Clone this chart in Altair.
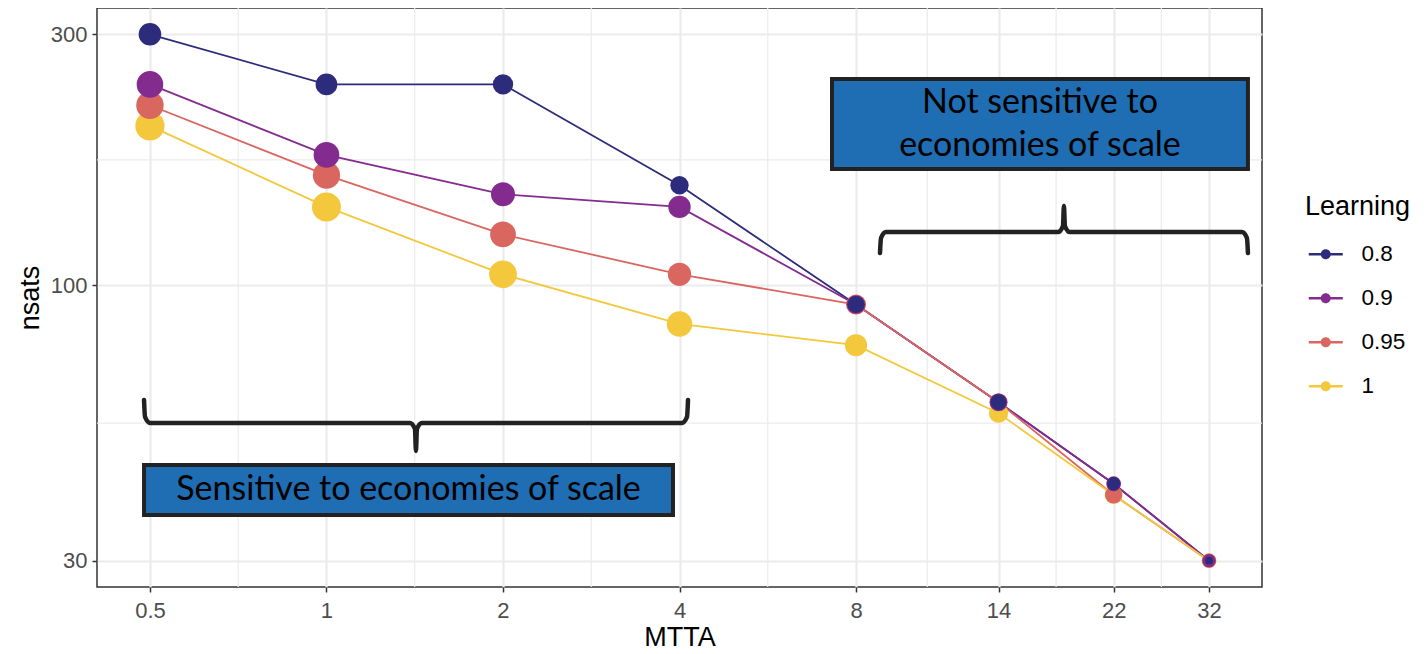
import math
import altair as alt
import pandas as pd

# ---------------- data ----------------
MTTA = [0.5, 1, 2, 4, 8, 14, 22, 32]
LEARNING = ["0.8", "0.9", "0.95", "1"]
COLORS = ["#2D2C7C", "#832B8E", "#D9665F", "#F3C83C"]

NSATS_08 = [300, 241, 241, 155, 92, 60, 42, 30]
NSATS_09 = [241, 177, 149, 141, 92, 60, 42, 30]
NSATS_095 = [220, 162, 125, 105, 92, 60, 40, 30]
NSATS_1 = [201, 141, 105, 84.5, 77, 57.2, 40, 30]

# marker-size variable (no legend in the original), read from dot diameters
DOT_08 = [25.5, 24.5, 23, 20.7, 19, 18, 15, 8.7]
DOT_09 = [30, 29, 27, 25.3, 21, 19.7, 16.7, 15]
DOT_095 = [31, 30.7, 29, 26.3, 22.7, 20.5, 19.3, 16]
DOT_1 = [33, 32.7, 31.3, 28.7, 25, 21.7, 20, 16.7]

X_TICKS = [0.5, 1, 2, 4, 8, 14, 22, 32]
Y_TICKS = [30, 100, 300]

NSATS = [NSATS_08, NSATS_09, NSATS_095, NSATS_1]
DOTS = [DOT_08, DOT_09, DOT_095, DOT_1]

rows = []
for k, lab in enumerate(LEARNING):
    for m, v, d in zip(MTTA, NSATS[k], DOTS[k]):
        rows.append({"MTTA": m, "nsats": v, "Learning": lab, "rank": k, "dot": d})
df = pd.DataFrame(rows)

# ---------------- scales (log2 x, log10 y, 5% expansion like ggplot) ----------------
W, H = 1165, 579
LX0, LX1 = math.log2(min(MTTA)), math.log2(max(MTTA))
LY0, LY1 = math.log10(30), math.log10(300)
ex = (LX1 - LX0) * 0.05
ey = (LY1 - LY0) * 0.05
X_DOM = [2 ** (LX0 - ex), 2 ** (LX1 + ex)]
Y_DOM = [10 ** (LY0 - ey), 10 ** (LY1 + ey)]
KX = W / (LX1 - LX0 + 2 * ex)   # px per log2 unit
KY = H / (LY1 - LY0 + 2 * ey)   # px per log10 unit

XS = alt.Scale(type="log", base=2, domain=X_DOM, nice=False)
YS = alt.Scale(type="log", base=10, domain=Y_DOM, nice=False)
X_AXIS = alt.Axis(title="MTTA", values=X_TICKS, format="~g", labelOverlap=False, labelFlush=False,
                  labelPadding=8, titlePadding=3)
Y_AXIS = alt.Axis(title="nsats", values=Y_TICKS, format="~g", labelOverlap=False, labelFlush=False)


def X(field):
    return alt.X(field, scale=XS, axis=X_AXIS)


def Y(field):
    return alt.Y(field, scale=YS, axis=Y_AXIS)


# minor grid lines (midpoints in transformed space)
x_minor = pd.DataFrame({"xm": [math.sqrt(a * b) for a, b in zip(X_TICKS[:-1], X_TICKS[1:])]})
y_minor = pd.DataFrame({"ym": [math.sqrt(a * b) for a, b in zip(Y_TICKS[:-1], Y_TICKS[1:])]})

GRID = "#EBEBEB"
minor_x = alt.Chart(x_minor).mark_rule(color=GRID, strokeWidth=1.2).encode(x=X("xm:Q"))
minor_y = alt.Chart(y_minor).mark_rule(color=GRID, strokeWidth=1.2).encode(y=Y("ym:Q"))

# legend symbol: line segment with a dot
LEG_PATH = ("M-0.882,-0.147L3.118,-0.147L3.118,0.147L-0.882,0.147Z "
            "M0.530,0A0.588,0.588,0,1,1,1.706,0A0.588,0.588,0,1,1,0.530,0Z")
LEGEND = alt.Legend(
    title="Learning", orient="none", direction="vertical",
    legendX=1208, legendY=186,
    symbolType=LEG_PATH, symbolSize=289, symbolStrokeWidth=0, symbolOpacity=1,
    labelFontSize=22.5, labelFont="Liberation Sans", labelColor="black", labelOffset=34,
    titleFontSize=27, titleFont="Liberation Sans", titleColor="black", titleFontWeight="normal",
    titlePadding=22, rowPadding=21,
)
COLOR = alt.Color("Learning:N", scale=alt.Scale(domain=LEARNING, range=COLORS), legend=LEGEND)

lines = alt.Chart(df).mark_line(strokeWidth=1.8).encode(
    x=X("MTTA:Q"), y=Y("nsats:Q"), color=COLOR, detail="Learning:N"
)
points = alt.Chart(df).mark_circle(opacity=1).encode(
    x=X("MTTA:Q"), y=Y("nsats:Q"), color=COLOR,
    size=alt.Size("dot:Q", scale=alt.Scale(type="pow", exponent=2, domain=[0, 33],
                                           range=[0, math.pi * 33 * 33 / 4]), legend=None),
    order=alt.Order("rank:Q", sort="descending"),
)

# ---------------- annotations ----------------
BOX_X0 = [7.28, 0.4885]
BOX_X1 = [37.28, 3.899]
BOX_Y0 = [166.4, 36.64]
BOX_Y1 = [246.7, 45.6]
BOX_TEXT = [["Not sensitive to", "economies of scale"], ["Sensitive to economies of scale"]]
LINE_H = 43
boxes_df = pd.DataFrame({"x0": BOX_X0, "x1": BOX_X1, "y0": BOX_Y0, "y1": BOX_Y1})

text_rows = []
for b in range(len(BOX_TEXT)):
    xc = math.sqrt(BOX_X0[b] * BOX_X1[b])
    lyc = (math.log10(BOX_Y0[b]) + math.log10(BOX_Y1[b])) / 2
    n = len(BOX_TEXT[b])
    for j, t in enumerate(BOX_TEXT[b]):
        ly = lyc + ((n - 1) / 2 - j) * LINE_H / KY
        text_rows.append({"tx": xc, "ty": 10 ** ly, "label": t})
text_df = pd.DataFrame(text_rows)

boxes = alt.Chart(boxes_df).mark_rect(fill="#1F6DB3", stroke="#222222", strokeWidth=4).encode(
    x=X("x0:Q"), x2="x1:Q", y=Y("y0:Q"), y2="y1:Q"
)
texts = alt.Chart(text_df).mark_text(
    font="Lato", fontSize=34, color="black", align="center", baseline="middle"
).encode(x=X("tx:Q"), y=Y("ty:Q"), text="label:N")


def brace(bid, x0, x1, xm, yb, arm, tip, arms_up):
    a = 1 if arms_up else -1
    lx0, lx1, lxm, ly = math.log2(x0), math.log2(x1), math.log2(xm), math.log10(yb)
    dx = lambda p: p / KX
    dy = lambda p: p / KY
    pts = [
        (lx0, ly + a * dy(arm)), (lx0 + dx(1), ly + a * dy(6)), (lx0 + dx(6), ly),
        (lxm - dx(6), ly), (lxm - dx(1), ly - a * dy(6)), (lxm, ly - a * dy(tip)),
        (lxm + dx(1), ly - a * dy(6)), (lxm + dx(6), ly),
        (lx1 - dx(6), ly), (lx1 - dx(1), ly + a * dy(6)), (lx1, ly + a * dy(arm)),
    ]
    return [{"id": bid, "i": i, "bx": 2 ** p[0], "by": 10 ** p[1]} for i, p in enumerate(pts)]


brace_df = pd.DataFrame(
    brace("top", 8.79, 37.28, 18.1, 126.3, 21, 26, False)
    + brace("bottom", 0.4885, 4.136, 1.421, 54.8, 23, 28, True)
)
braces = alt.Chart(brace_df).mark_line(
    color="#222222", strokeWidth=4.5, strokeCap="round", strokeJoin="round", interpolate="monotone"
).encode(x=X("bx:Q"), y=Y("by:Q"), detail="id:N", order="i:Q")

chart = alt.layer(minor_x, minor_y, lines, points, braces, boxes, texts).properties(
    width=W, height=H,
    padding={"left": 89, "top": 0, "right": 157, "bottom": 59},
    autosize=alt.AutoSizeParams(type="none"),
).configure_view(
    stroke="#333333", strokeWidth=1.5
).configure_axis(
    domain=False, grid=True, gridColor=GRID, gridWidth=2.2,
    tickColor="#333333", tickWidth=1.5, tickSize=5,
    labelFont="Liberation Sans", labelFontSize=22, labelColor="#4D4D4D", labelPadding=5,
    titleFont="Liberation Sans", titleFontSize=27, titleColor="black", titleFontWeight="normal",
    titlePadding=6,
)

chart.save("out.html", embed_options={"renderer": "svg", "actions": False})
